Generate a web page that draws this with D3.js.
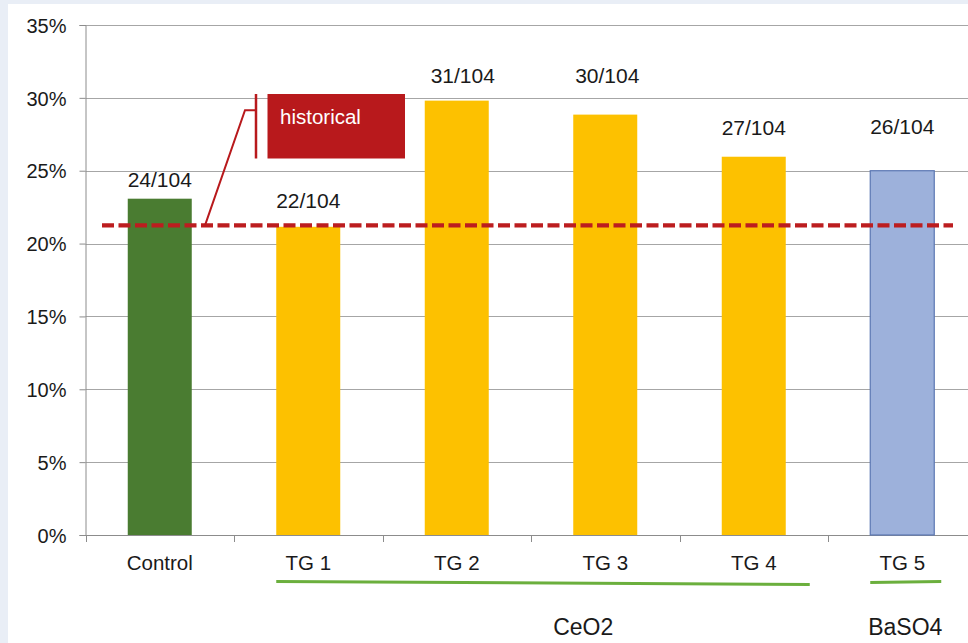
<!DOCTYPE html>
<html><head><meta charset="utf-8">
<script src="https://cdn.jsdelivr.net/npm/d3@7"></script>
<style>html,body{margin:0;padding:0;background:#e9eef6;overflow:hidden}</style>
</head><body>
<svg id="c" width="968" height="643"></svg>
<script>
const categories = ["Control","TG 1","TG 2","TG 3","TG 4","TG 5"];
const counts = [24,22,31,30,27,26];
const totals = [104,104,104,104,104,104];
const values = [0.2308,0.2115,0.2981,0.2885,0.2596,0.25];
const barColors = ["#4A7C31","#FDC100","#FDC100","#FDC100","#FDC100","#9DB1DB"];
const barStrokes = [null,null,null,null,null,"#5B77B3"];
const yTicks = [0,0.05,0.10,0.15,0.20,0.25,0.30,0.35];
const historical = 0.2125;
const groups = [{name:"CeO2", from:"TG 1", to:"TG 4"},{name:"BaSO4", from:"TG 5", to:"TG 5"}];

(function(){
const svg = d3.select("#c");
svg.append("rect").attr("x",8).attr("y",4).attr("width",960).attr("height",639).attr("fill","#fff");

const pL=85.5, pR=976.5, pT=25, pB=535;
const x = d3.scaleBand().domain(categories).range([pL,pR]).paddingInner(0).paddingOuter(0);
const y = d3.scaleLinear().domain([0,0.35]).range([pB,pT]);
const barW = 64;
const font = "'Liberation Sans', Arial, sans-serif";
const ink = "#1a1a1a";
// label gaps above bar tops (layout, as in the original slide)
const labelGap = [12,19,18,32,22,37];
const labelDx = [0,0,6,2,0,0];

// gridlines
svg.append("g").selectAll("line").data(yTicks.filter(d=>d>0)).join("line")
  .attr("x1",pL).attr("x2",968).attr("y1",d=>Math.round(y(d))+0.5).attr("y2",d=>Math.round(y(d))+0.5)
  .attr("stroke","#a6a6a6").attr("stroke-width",1);

// y axis
const yAxis = d3.axisLeft(y).tickValues(yTicks).tickFormat(d3.format(".0%")).tickSize(6).tickPadding(13);
const gy = svg.append("g").attr("transform",`translate(${pL},0)`).call(yAxis);
gy.select(".domain").attr("stroke","#8c8c8c");
gy.selectAll(".tick line").attr("stroke","#8c8c8c");
gy.selectAll("text").attr("font-family",font).attr("font-size",20).attr("fill",ink).attr("dy","0.36em");

// x axis
const xAxis = d3.axisBottom(x).tickSize(0).tickPadding(20);
const gx = svg.append("g").attr("transform",`translate(0,${pB})`).call(xAxis);
gx.select(".domain").attr("stroke","#8c8c8c");
gx.selectAll("text").attr("font-family",font).attr("font-size",20.5).attr("fill",ink);
svg.append("g").selectAll("line").data(categories).join("line")
  .attr("x1",d=>Math.round(x(d))+0.5).attr("x2",d=>Math.round(x(d))+0.5)
  .attr("y1",pB).attr("y2",pB+7).attr("stroke","#8c8c8c");

// bars
svg.append("g").selectAll("rect").data(categories).join("rect")
  .attr("x",(d)=>x(d)+x.bandwidth()/2-barW/2)
  .attr("width",barW)
  .attr("y",(d,i)=>y(values[i]))
  .attr("height",(d,i)=>pB-y(values[i]))
  .attr("fill",(d,i)=>barColors[i])
  .attr("stroke",(d,i)=>barStrokes[i]||"none")
  .attr("stroke-width",1.2);

// value labels
svg.append("g").selectAll("text").data(categories).join("text")
  .attr("x",(d,i)=>x(d)+x.bandwidth()/2+labelDx[i])
  .attr("y",(d,i)=>y(values[i])-labelGap[i])
  .attr("text-anchor","middle").attr("font-family",font).attr("font-size",21).attr("fill",ink)
  .text((d,i)=>`${counts[i]}/${totals[i]}`);

// historical line
const hy = y(historical);
svg.append("line").attr("x1",102).attr("x2",953).attr("y1",hy).attr("y2",hy)
  .attr("stroke","#BC1D1F").attr("stroke-width",4.2).attr("stroke-dasharray","12,4.5");

// callout
svg.append("path").attr("d",`M205,${hy} L245,${y(0.2915)} L256,${y(0.2915)}`)
  .attr("fill","none").attr("stroke","#B8191C").attr("stroke-width",2);
svg.append("line").attr("x1",256).attr("x2",256).attr("y1",94).attr("y2",158.5)
  .attr("stroke","#B8191C").attr("stroke-width",2.5);
svg.append("rect").attr("x",267.5).attr("y",94).attr("width",137.5).attr("height",64.5).attr("fill","#B8191C");
svg.append("text").attr("x",280).attr("y",124).attr("font-family",font).attr("font-size",20.5)
  .attr("fill","#fff").text("historical");

// group underlines and labels
const gl = [[581,585],[582,582]];
const extL = [0,0], extR = [24,7];
groups.forEach((g,i)=>{
  const x1 = x(g.from)+x.bandwidth()/2-barW/2-extL[i];
  const x2 = x(g.to)+x.bandwidth()/2+barW/2+extR[i];
  svg.append("line").attr("x1",x1).attr("x2",x2).attr("y1",gl[i][0]+0.5).attr("y2",gl[i][1]-0.5)
    .attr("stroke","#6BAF3D").attr("stroke-width",3);
});
svg.append("text").attr("x",x("TG 3")+x.bandwidth()/2-22).attr("y",635).attr("text-anchor","middle")
  .attr("font-family",font).attr("font-size",23).attr("fill",ink).text(groups[0].name);
svg.append("text").attr("x",x("TG 5")+x.bandwidth()/2+3).attr("y",635).attr("text-anchor","middle")
  .attr("font-family",font).attr("font-size",23).attr("fill",ink).text(groups[1].name);
})();
</script>
</body></html>
